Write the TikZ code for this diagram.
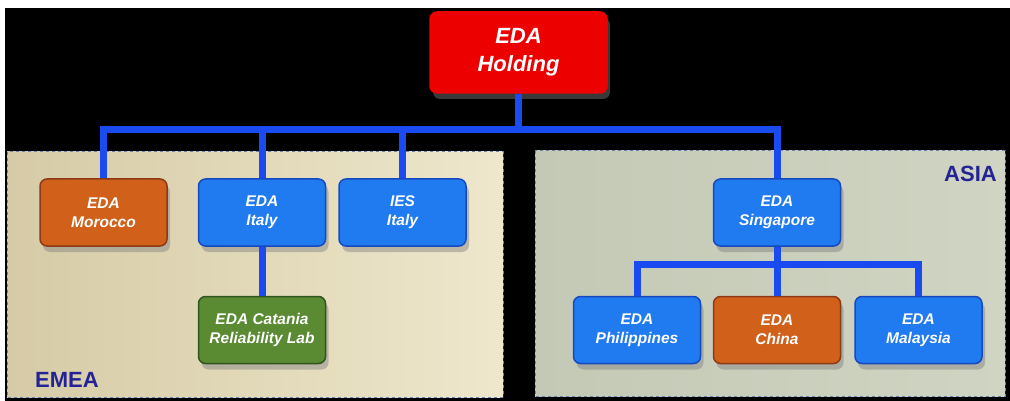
\documentclass[tikz,border=0pt]{standalone}
\usepackage{fontspec}
\setmainfont{Liberation Sans}
\usepackage{tikz}
\usetikzlibrary{positioning,shadows}

\definecolor{holdred}{RGB}{236,0,0}
\definecolor{unitblue}{RGB}{32,122,240}
\definecolor{unitedge}{RGB}{22,72,190}
\definecolor{unitorange}{RGB}{208,96,26}
\definecolor{orangeedge}{RGB}{140,58,22}
\definecolor{unitgreen}{RGB}{90,138,50}
\definecolor{greenedge}{RGB}{48,84,30}
\definecolor{busblue}{RGB}{25,75,240}
\definecolor{emealeft}{RGB}{214,203,166}
\definecolor{emearight}{RGB}{238,231,204}
\definecolor{asialeft}{RGB}{196,201,182}
\definecolor{asiaright}{RGB}{208,212,194}
\definecolor{paneledge}{RGB}{110,130,170}
\definecolor{regionnavy}{RGB}{35,35,150}

\tikzset{
  unit/.style={rounded corners=7pt, minimum width=127pt, minimum height=67pt,
    draw=unitedge, line width=1.5pt, fill=unitblue, text=white, align=center,
    font=\fontsize{15.5}{19}\selectfont\bfseries\itshape,
    drop shadow={shadow xshift=3pt, shadow yshift=-6pt, opacity=.45}},
  orangeunit/.style={unit, fill=unitorange, draw=orangeedge},
  greenunit/.style={unit, fill=unitgreen, draw=greenedge},
  bus/.style={busblue, line width=7pt},
  region/.style={text=regionnavy, font=\fontsize{22}{22}\selectfont\bfseries, inner sep=0pt}
}

\begin{document}
\begin{tikzpicture}[x=1pt, y=-1pt]
  % Set the frame
  \useasboundingbox[fill=white] (0,0) rectangle (1010,401);
  \fill[black] (5,8) rectangle (1010,401);

  % Draw the two regions
  \fill[left color=emealeft, right color=emearight] (7,152) rectangle (503,397);
  \draw[paneledge, dashed, line width=1pt] (7,152) rectangle (503,397);
  \fill[left color=asialeft, right color=asiaright] (535,151) rectangle (1005,396);
  \draw[paneledge, dashed, line width=1pt] (535,151) rectangle (1005,396);

  % Region labels
  \node[region, anchor=base west] (emea) at (35,387) {EMEA};
  \node[region, anchor=base east] (asia) at (997,182) {ASIA};

  % Holding at the top
  \node[unit, fill=holdred, draw=holdred, minimum width=177pt, minimum height=81pt,
    font=\fontsize{22}{28}\selectfont\bfseries\itshape, drop shadow={opacity=0}]
    (holding) at (518.5,52.5) {EDA\\Holding};

  % EMEA companies
  \node[orangeunit] (morocco) at (103.5,212.5) {EDA\\Morocco};
  \node[unit] (italy) at (262,212.5) {EDA\\Italy};
  \node[unit] (ies) at (402.5,212.5) {IES\\Italy};
  \node[greenunit] (catania) at (262,330) {EDA Catania\\Reliability Lab};

  % ASIA companies
  \node[unit] (singapore) at (777,212.5) {EDA\\Singapore};
  \node[unit] (philippines) at (637,330) {EDA\\Philippines};
  \node[orangeunit] (china) at (777,330) {EDA\\China};
  \node[unit] (malaysia) at (918.5,330) {EDA\\Malaysia};

  % Draw the connectors
  \draw[bus] (holding.south) -- ++(0,36) coordinate (hub) -| (morocco.north);
  \draw[bus] (hub) -| (italy.north);
  \draw[bus] (hub) -| (ies.north);
  \draw[bus] (hub) -| (singapore.north);
  \draw[bus] (italy.south) -- (catania.north);
  \draw[bus] (singapore.south) -- ++(0,17.5) coordinate (asiahub) -| (philippines.north);
  \draw[bus] (asiahub) -- (china.north);
  \draw[bus] (asiahub) -| (malaysia.north);

\end{tikzpicture}
\end{document}
